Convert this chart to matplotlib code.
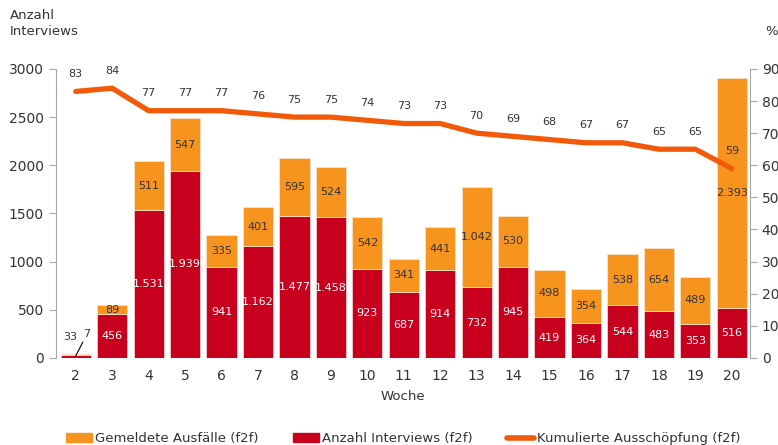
import matplotlib.pyplot as plt
from matplotlib.lines import Line2D
from matplotlib.patches import Patch

weeks = list(range(2, 21))
interviews = [33, 456, 1531, 1939, 941, 1162, 1477, 1458, 923, 687, 914, 732, 945, 419, 364, 544, 483, 353, 516]
failures = [7, 89, 511, 547, 335, 401, 595, 524, 542, 341, 441, 1042, 530, 498, 354, 538, 654, 489, 2393]
response_rate = [83, 84, 77, 77, 77, 76, 75, 75, 74, 73, 73, 70, 69, 68, 67, 67, 65, 65, 59]

ORANGE = '#F7941E'
RED = '#C8001E'
LINE = '#F25A0A'
GREY = '#A6A6A6'
TXT = '#333333'


def fmt(v):
    return f'{v:,}'.replace(',', '.')


fig = plt.figure(figsize=(7.78, 4.45), dpi=100)
ax = fig.add_axes([0.0716, 0.196, 0.8924, 0.649])
ax2 = ax.twinx()

w = 0.83
ax.bar(weeks, interviews, width=w, color=RED, edgecolor='#F4D0D0', linewidth=0.6, zorder=2)
ax.bar(weeks, failures, width=w, bottom=interviews, color=ORANGE, edgecolor='#FBE3C4',
       linewidth=0.6, zorder=2)

for x, a, b in zip(weeks, interviews, failures):
    if a < 100:
        continue
    ax.text(x, a / 2, fmt(a), ha='center', va='center', color='white', fontsize=8, zorder=3)
    ax.text(x, a + b / 2, fmt(b), ha='center', va='center', color=TXT, fontsize=8, zorder=3)

# week 2 is too small for inner labels
ax.annotate(fmt(interviews[0]), xy=(weeks[0], interviews[0]), xytext=(-4, 9),
            textcoords='offset points', ha='center', va='bottom', fontsize=8, color=TXT)
ax.annotate(fmt(failures[0]), xy=(weeks[0], interviews[0] + failures[0] - 20), xytext=(8, 12),
            textcoords='offset points', ha='center', va='bottom', fontsize=8, color=TXT,
            arrowprops=dict(arrowstyle='-', color='black', lw=0.8, shrinkA=0, shrinkB=0))

ax2.plot(weeks, response_rate, color=LINE, lw=3.8, solid_capstyle='round',
         solid_joinstyle='round', zorder=4)
for x, p in zip(weeks, response_rate):
    ax2.annotate(str(p), xy=(x, p), xytext=(0, 9), textcoords='offset points',
                 ha='center', va='bottom', fontsize=8, color=TXT)

ax.set_xlim(1.45, 20.5)
ax.set_ylim(0, 3000)
ax2.set_ylim(0, 90)
ax.set_xticks(weeks)
ax.set_yticks(range(0, 3001, 500))
ax2.set_yticks(range(0, 91, 10))

for a in (ax, ax2):
    a.set_zorder(1 if a is ax else 2)
    for s in ('top', 'bottom'):
        a.spines[s].set_visible(False)
ax.patch.set_visible(False)
ax.spines['right'].set_visible(False)
ax2.spines['left'].set_visible(False)
ax.spines['left'].set_color(GREY)
ax2.spines['right'].set_color(GREY)
ax.tick_params(axis='y', colors=GREY, labelcolor=TXT, labelsize=10, length=5, width=0.8)
ax2.tick_params(axis='y', colors=GREY, labelcolor=TXT, labelsize=10, length=5, width=0.8)
ax.tick_params(axis='x', length=0, labelsize=10, labelcolor=TXT, pad=8)

ax.set_xlabel('Woche', fontsize=9.5, color=TXT, labelpad=5)
fig.text(0.013, 0.915, 'Anzahl\nInterviews', fontsize=9.5, color=TXT, ha='left', va='bottom',
         linespacing=1.3)
fig.text(0.983, 0.915, '%', fontsize=9.5, color=TXT, ha='left', va='bottom')

handles = [Patch(color=ORANGE), Patch(color=RED),
           Line2D([0], [0], color=LINE, lw=4, solid_capstyle='round')]
labels = ['Gemeldete Ausfälle (f2f)', 'Anzahl Interviews (f2f)', 'Kumulierte Ausschöpfung (f2f)']
fig.legend(handles, labels, loc='lower left', bbox_to_anchor=(0.0848, 0.0), ncol=3,
           frameon=False, handlelength=2.0, handleheight=0.6, handletextpad=0.22,
           columnspacing=2.6, borderpad=0, borderaxespad=0,
           prop={'family': 'DejaVu Sans', 'size': 9.5}, labelcolor=TXT)

fig.savefig('out.png', dpi=100)
